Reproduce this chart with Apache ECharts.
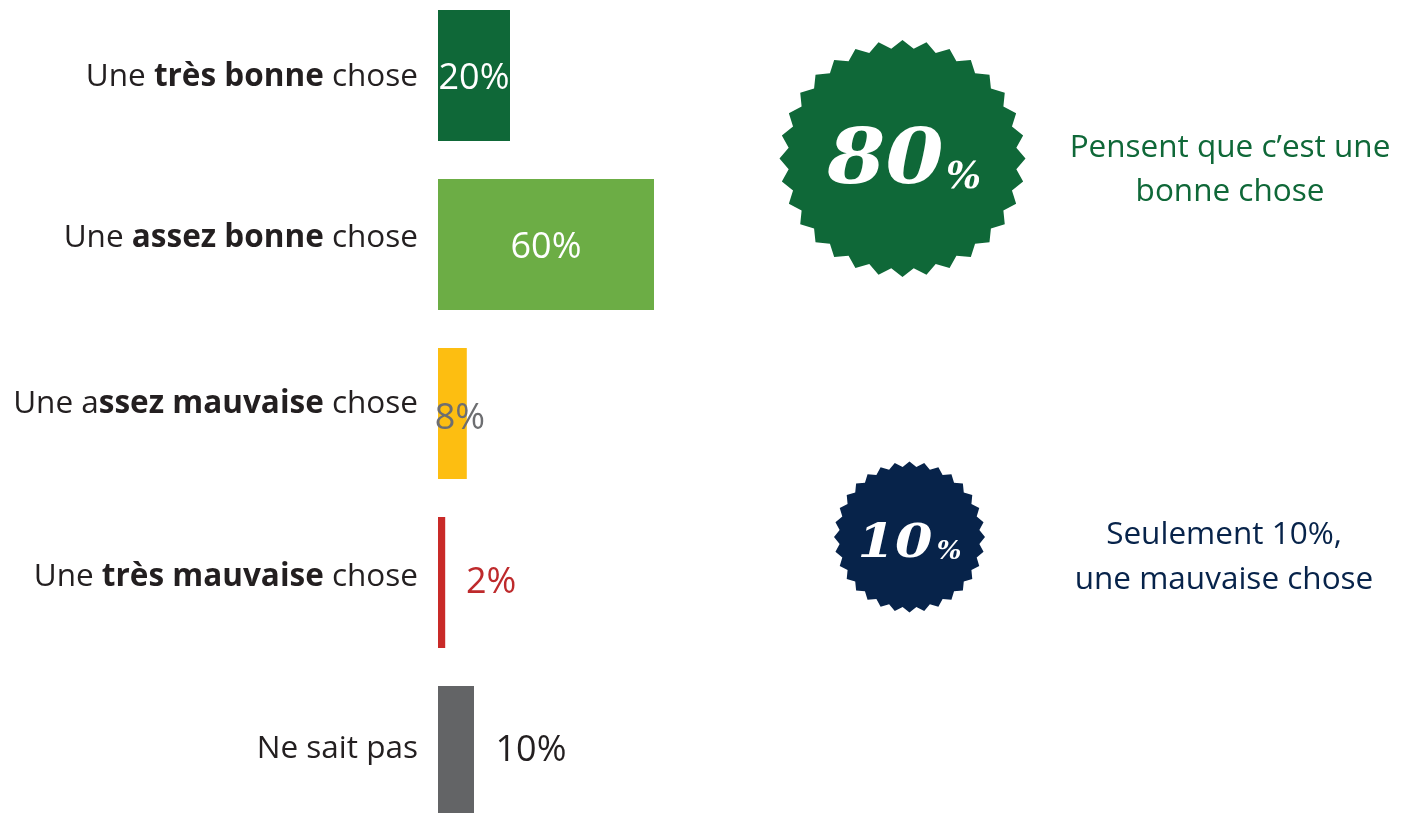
<!DOCTYPE html>
<html><head><meta charset="utf-8">
<style>html,body{margin:0;padding:0;background:#fff}#c{width:1405px;height:813px}</style>
<script src="https://cdn.jsdelivr.net/npm/echarts@6/dist/echarts.min.js"></script>
</head><body><div id="c"></div>
<script>
const categories = ['{a|Une }{b|très bonne}{a| chose}','{a|Une }{b|assez bonne}{a| chose}','{a|Une a}{b|ssez mauvaise}{a| chose}','{a|Une }{b|très mauvaise}{a| chose}','{a|Ne sait pas}'];
const values = [20, 60, 8, 2, 10];
const barColors = ['#0F6838','#6CAD45','#FDBE11','#C92A28','#636466'];
const labelColors = ['#ffffff','#ffffff','#6D6E71','#BE2A2C','#231F20'];
const labelShift = [[0,3.5],[0,3],[7.5,5],[49.5,0],[75,-0.5]];
const catShift = [-4,13,18,11,4];
const badgeValues = ['80','10'];
const badgeTexts = [['Pensent que c’est une','bonne chose'],['Seulement 10%,','une mauvaise chose']];
const badgeColors = ['#0F6838','#07234A'];

const FONT = '"Open Sans"';
function star(cx,cy,rx,ry,inner,n){
  const pts=[];
  for(let i=0;i<n*2;i++){
    const a=-Math.PI/2+i*Math.PI/n, k=i%2?inner:1;
    pts.push([cx+rx*k*Math.cos(a),cy+ry*k*Math.sin(a)]);
  }
  return pts;
}
function badge(cx,cy,rx,ry,idx,numSize,pctSize,numX,numY,pctX,pctY,sx){
  return [
    {type:'polygon',shape:{points:star(cx,cy,rx,ry,0.93,32)},style:{fill:badgeColors[idx]}},
    {type:'text',x:numX,y:numY,scaleX:sx,style:{text:badgeValues[idx],fill:'#fff',font:`italic bold ${numSize}px "DejaVu Serif"`,align:'center',verticalAlign:'middle'}},
    {type:'text',x:pctX,y:pctY,style:{text:'%',fill:'#fff',font:`italic bold ${pctSize}px "DejaVu Serif"`,align:'center',verticalAlign:'middle'}}
  ];
}
function caption(cx,y1,y2,idx){
  return badgeTexts[idx].map((t,i)=>({type:'text',x:cx,y:i?y2:y1,style:{text:t,fill:badgeColors[idx],font:`31.5px ${FONT}`,align:'center',verticalAlign:'middle'}}));
}
const pad = s => s<0 ? [-s,0,0,0] : [0,0,s,0];
const chart = echarts.init(document.getElementById('c'),null,{renderer:'canvas'});
chart.setOption({
  animation:false,
  backgroundColor:'#ffffff',
  grid:{left:438,top:-9,width:360,height:845,containLabel:false,outerBoundsMode:'none'},
  xAxis:{type:'value',min:0,max:100,show:false},
  yAxis:{type:'category',inverse:true,
    data:categories.map((c,i)=>({value:c,textStyle:{padding:pad(catShift[i])}})),
    axisLine:{show:false},axisTick:{show:false},
    axisLabel:{margin:20,align:'right',formatter:v=>v,
      rich:{a:{fontFamily:FONT,fontSize:31.5,color:'#231F20'},b:{fontFamily:FONT,fontSize:31.5,fontWeight:'bold',color:'#231F20'}}}},
  series:[{type:'bar',barWidth:131,
    data:values.map((v,i)=>({value:v,itemStyle:{color:barColors[i]},
      label:{show:true,position:'inside',offset:labelShift[i],color:labelColors[i],fontFamily:FONT,fontSize:36,formatter:'{c}%'}}))}],
  graphic:{elements:[
    ...badge(902.5,158.5,123,118.5,0,76,37,885.5,163,963.5,178,1.1),
    ...badge(909.5,537,75.5,75.5,1,46,26,895,545,949,552,1.17),
    ...caption(1230,148,192,0),
    ...caption(1224,535,580,1)
  ]}
});
</script></body></html>
